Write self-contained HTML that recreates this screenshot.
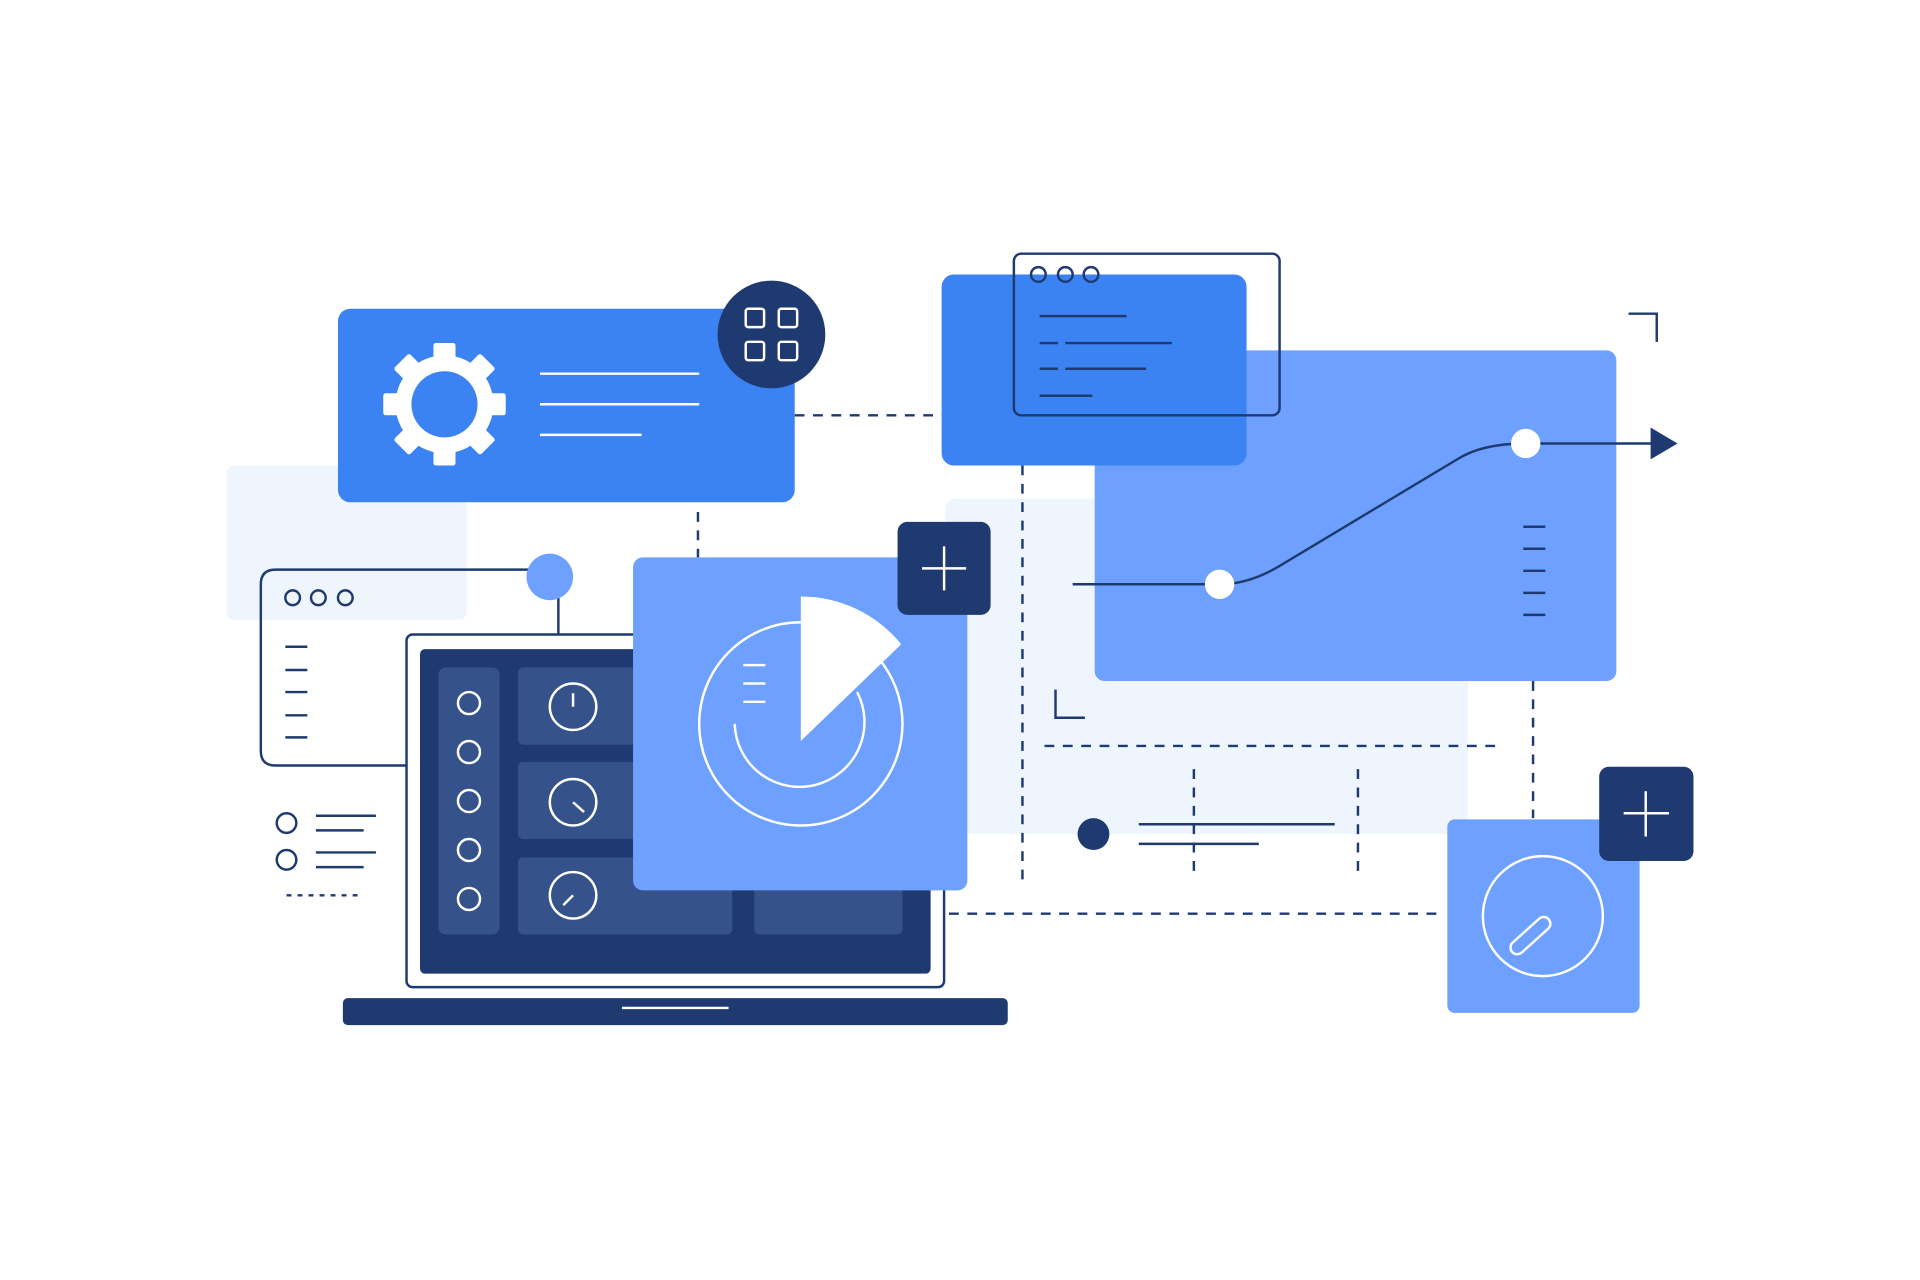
<!DOCTYPE html>
<html><head><meta charset="utf-8"><style>
html,body{margin:0;padding:0;background:#fff;}
svg{display:block;}
</style></head><body>
<svg width="1920" height="1280" viewBox="0 0 1568 1045" xmlns="http://www.w3.org/2000/svg">
<rect width="1568" height="1045" fill="#fff"/>
<rect x="185" y="380" width="196" height="126" rx="6" fill="#EEF5FD"/>
<rect x="772" y="407" width="427" height="274" rx="8" fill="#EEF5FD"/>

<g stroke="#1F3A70" stroke-width="2" fill="none">
<line x1="649" y1="339" x2="770" y2="339" stroke-dasharray="8 7"/>
<line x1="570" y1="418" x2="570" y2="455" stroke-dasharray="8 7"/>
<line x1="835" y1="380" x2="835" y2="725" stroke-dasharray="8 7"/>
<line x1="853" y1="609" x2="1222" y2="609" stroke-dasharray="8 7"/>
<line x1="1252" y1="556" x2="1252" y2="668" stroke-dasharray="8 7"/>
<line x1="975" y1="628" x2="975" y2="718" stroke-dasharray="8 7"/>
<line x1="1109" y1="628" x2="1109" y2="718" stroke-dasharray="8 7"/>
<line x1="760" y1="746" x2="1180" y2="746" stroke-dasharray="8 7"/>
<line x1="930" y1="673" x2="1090" y2="673"/>
<line x1="930" y1="689" x2="1028" y2="689"/>
<polyline points="1330,256 1353,256 1353,279"/>
<polyline points="862,563 862,586 886,586"/>
</g>
<circle cx="893" cy="681" r="13" fill="#1F3A70"/>

<!-- gear card -->
<rect x="276" y="252" width="373" height="158" rx="10" fill="#3B82F2"/>
<g fill="#fff">
<circle cx="363" cy="330" r="40"/>
<g transform="translate(363 330)">
<rect x="-9" y="-50" width="18" height="100" rx="2"/>
<rect x="-9" y="-50" width="18" height="100" rx="2" transform="rotate(45)"/>
<rect x="-9" y="-50" width="18" height="100" rx="2" transform="rotate(90)"/>
<rect x="-9" y="-50" width="18" height="100" rx="2" transform="rotate(135)"/>
</g>
</g>
<circle cx="363" cy="330" r="27" fill="#3B82F2"/>
<g stroke="#fff" stroke-width="2">
<line x1="441" y1="305" x2="571" y2="305"/>
<line x1="441" y1="330" x2="571" y2="330"/>
<line x1="441" y1="355" x2="524" y2="355"/>
</g>
<circle cx="630" cy="273" r="44" fill="#1F3A70"/>
<g stroke="#fff" stroke-width="2" fill="none">
<rect x="609" y="252" width="15" height="15" rx="2"/>
<rect x="636" y="252" width="15" height="15" rx="2"/>
<rect x="609" y="279" width="15" height="15" rx="2"/>
<rect x="636" y="279" width="15" height="15" rx="2"/>
</g>

<!-- big chart card (behind top card) -->
<rect x="894" y="286" width="426" height="270" rx="8" fill="#6EA0FF"/>
<path d="M876 477 L996 477 Q1020 477 1045 462 L1190 375 Q1210 362 1246 362 L1352 362" stroke="#1F3A70" stroke-width="2" fill="none"/>
<polygon points="1348,349 1370,362 1348,375" fill="#1F3A70"/>
<circle cx="996" cy="477" r="12" fill="#fff"/>
<circle cx="1246" cy="362" r="12" fill="#fff"/>
<g stroke="#1F3A70" stroke-width="2">
<line x1="1244" y1="430" x2="1262" y2="430"/><line x1="1244" y1="448" x2="1262" y2="448"/>
<line x1="1244" y1="466" x2="1262" y2="466"/><line x1="1244" y1="484" x2="1262" y2="484"/>
<line x1="1244" y1="502" x2="1262" y2="502"/>
</g>

<!-- top blue card -->
<rect x="769" y="224" width="249" height="156" rx="10" fill="#3B82F2"/>
<g stroke="#1F3A70" stroke-width="2" fill="none">
<rect x="828" y="207" width="217" height="132" rx="6"/>
<circle cx="848" cy="224" r="6"/><circle cx="870" cy="224" r="6"/><circle cx="891" cy="224" r="6"/>
<line x1="849" y1="258" x2="920" y2="258"/>
<line x1="849" y1="280" x2="864" y2="280"/><line x1="870" y1="280" x2="957" y2="280"/>
<line x1="849" y1="301" x2="864" y2="301"/><line x1="870" y1="301" x2="936" y2="301"/>
<line x1="849" y1="323" x2="892" y2="323"/>
</g>

<!-- left window -->
<g stroke="#1F3A70" stroke-width="2" fill="none">
<path d="M345 625 L225 625 Q213 625 213 613 L213 477 Q213 465 225 465 L440 465"/>
<line x1="456" y1="488" x2="456" y2="530"/>
<circle cx="239" cy="488" r="6"/><circle cx="260" cy="488" r="6"/><circle cx="282" cy="488" r="6"/>
<line x1="233" y1="528" x2="251" y2="528"/><line x1="233" y1="547" x2="251" y2="547"/>
<line x1="233" y1="565" x2="251" y2="565"/><line x1="233" y1="584" x2="251" y2="584"/>
<line x1="233" y1="602" x2="251" y2="602"/>
<circle cx="234" cy="672" r="8"/><circle cx="234" cy="702" r="8"/>
<line x1="258" y1="666" x2="307" y2="666"/><line x1="258" y1="678" x2="297" y2="678"/>
<line x1="258" y1="696" x2="307" y2="696"/><line x1="258" y1="708" x2="297" y2="708"/>
<line x1="234" y1="731" x2="295" y2="731" stroke-dasharray="4 5"/>
</g>
<circle cx="449" cy="471" r="19" fill="#6EA0FF"/>

<!-- laptop -->
<rect x="332" y="518" width="439" height="288" rx="5" fill="#fff" stroke="#1F3A70" stroke-width="2"/>
<rect x="343" y="530" width="417" height="265" rx="4" fill="#1F3A70"/>
<rect x="358" y="545" width="50" height="218" rx="6" fill="#36528A"/>
<g stroke="#fff" stroke-width="2" fill="none">
<circle cx="383" cy="574" r="9"/><circle cx="383" cy="614" r="9"/><circle cx="383" cy="654" r="9"/>
<circle cx="383" cy="694" r="9"/><circle cx="383" cy="734" r="9"/>
</g>
<g fill="#36528A">
<rect x="423" y="545" width="175" height="63" rx="4"/>
<rect x="423" y="622" width="175" height="63" rx="4"/>
<rect x="423" y="700" width="175" height="63" rx="4"/>
<rect x="616" y="700" width="121" height="63" rx="4"/>
</g>
<g stroke="#fff" stroke-width="2" fill="none">
<circle cx="468" cy="577" r="19"/><line x1="468" y1="577" x2="468" y2="566"/>
<circle cx="468" cy="655" r="19"/><line x1="468" y1="655" x2="477" y2="663"/>
<circle cx="468" cy="731" r="19"/><line x1="468" y1="731" x2="460" y2="739"/>
</g>
<rect x="280" y="815" width="543" height="22" rx="4" fill="#1F3A70"/>
<line x1="508" y1="823" x2="595" y2="823" stroke="#fff" stroke-width="2"/>

<!-- pie card -->
<rect x="517" y="455" width="273" height="272" rx="8" fill="#6EA0FF"/>
<circle cx="654" cy="591" r="83" stroke="#fff" stroke-width="2" fill="none"/>
<path d="M600 591 A53 53 0 1 0 700 565" stroke="#fff" stroke-width="2" fill="none"/>
<path d="M654 605 L654 487 A105 105 0 0 1 736 526 Z" fill="#fff"/>
<g stroke="#fff" stroke-width="2">
<line x1="607" y1="543" x2="625" y2="543"/><line x1="607" y1="558" x2="625" y2="558"/><line x1="607" y1="573" x2="625" y2="573"/>
</g>
<rect x="733" y="426" width="76" height="76" rx="8" fill="#1F3A70"/>
<g stroke="#fff" stroke-width="2"><line x1="771" y1="446" x2="771" y2="482"/><line x1="753" y1="464" x2="789" y2="464"/></g>

<!-- bottom right card -->
<rect x="1182" y="669" width="157" height="158" rx="6" fill="#6EA0FF"/>
<circle cx="1260" cy="748" r="49" stroke="#fff" stroke-width="2" fill="none"/>
<rect x="1227" y="758" width="40" height="11" rx="5.5" stroke="#fff" stroke-width="2" fill="none" transform="rotate(-42 1249 760)"/>
<rect x="1306" y="626" width="77" height="77" rx="8" fill="#1F3A70"/>
<g stroke="#fff" stroke-width="2"><line x1="1344" y1="646" x2="1344" y2="683"/><line x1="1326" y1="664" x2="1363" y2="664"/></g>
</svg>
</body></html>
